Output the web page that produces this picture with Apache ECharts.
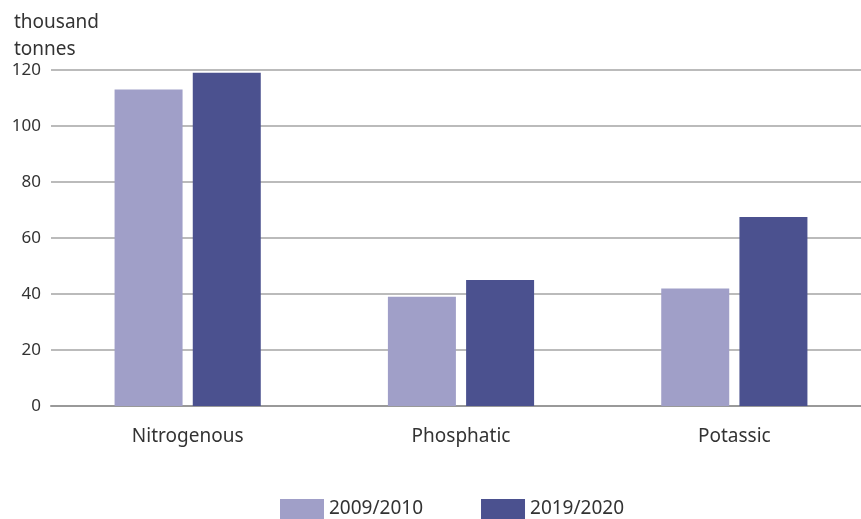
<!DOCTYPE html>
<html>
<head>
<meta charset="utf-8">
<script src="https://cdn.jsdelivr.net/npm/echarts@6/dist/echarts.min.js"></script>
<style>
  html, body { margin: 0; padding: 0; background: #fff; }
  #chart { width: 861px; height: 519px; }
</style>
</head>
<body>
<div id="chart"></div>
<script>
const categories = ["Nitrogenous", "Phosphatic", "Potassic"];
const seriesNames = ["2009/2010", "2019/2020"];
const values2009 = [113, 39, 42];
const values2019 = [119, 45, 67.5];
const colors = ["#a09fc8", "#4b518f"];

const chart = echarts.init(document.getElementById("chart"));
const font = "Noto Sans";

const option = {
    animation: false,
    textStyle: { fontFamily: font },
    title: {
        text: "thousand\ntonnes",
        left: 9,
        top: 4,
        textStyle: { fontFamily: font, fontSize: 19, fontWeight: "normal", color: "#333", lineHeight: 27 },
    },
    legend: {
        bottom: 0,
        left: 280,
        padding: [0, 0, 0, 0],
        itemWidth: 44,
        itemHeight: 20,
        itemGap: 58,
        icon: "rect",
        textStyle: { fontFamily: font, fontSize: 19, color: "#333" },
        data: seriesNames,
    },
    // plot runs a little past the right edge, as in the reference
    grid: { left: 51, right: -10, top: 70, bottom: 113, outerBoundsMode: "none" },
    xAxis: {
        type: "category",
        data: categories,
        axisTick: { show: false },
        axisLine: { lineStyle: { color: "#999", width: 2 } },
        axisLabel: { fontFamily: font, fontSize: 19, color: "#333", margin: 21 },
    },
    yAxis: {
        type: "value",
        min: 0,
        max: 120,
        interval: 20,
        axisLabel: { fontFamily: font, fontSize: 17, color: "#333", margin: 10 },
        splitLine: { lineStyle: { color: "#bbb", width: 2 } },
    },
    series: [
        {
            name: seriesNames[0],
            type: "bar",
            data: values2009,
            barWidth: 68,
            barGap: "15%",
            itemStyle: { color: colors[0] },
        },
        {
            name: seriesNames[1],
            type: "bar",
            data: values2019,
            barWidth: 68,
            barGap: "15%",
            itemStyle: { color: colors[1] },
        },
    ],
};
chart.setOption(option);
</script>
</body>
</html>
